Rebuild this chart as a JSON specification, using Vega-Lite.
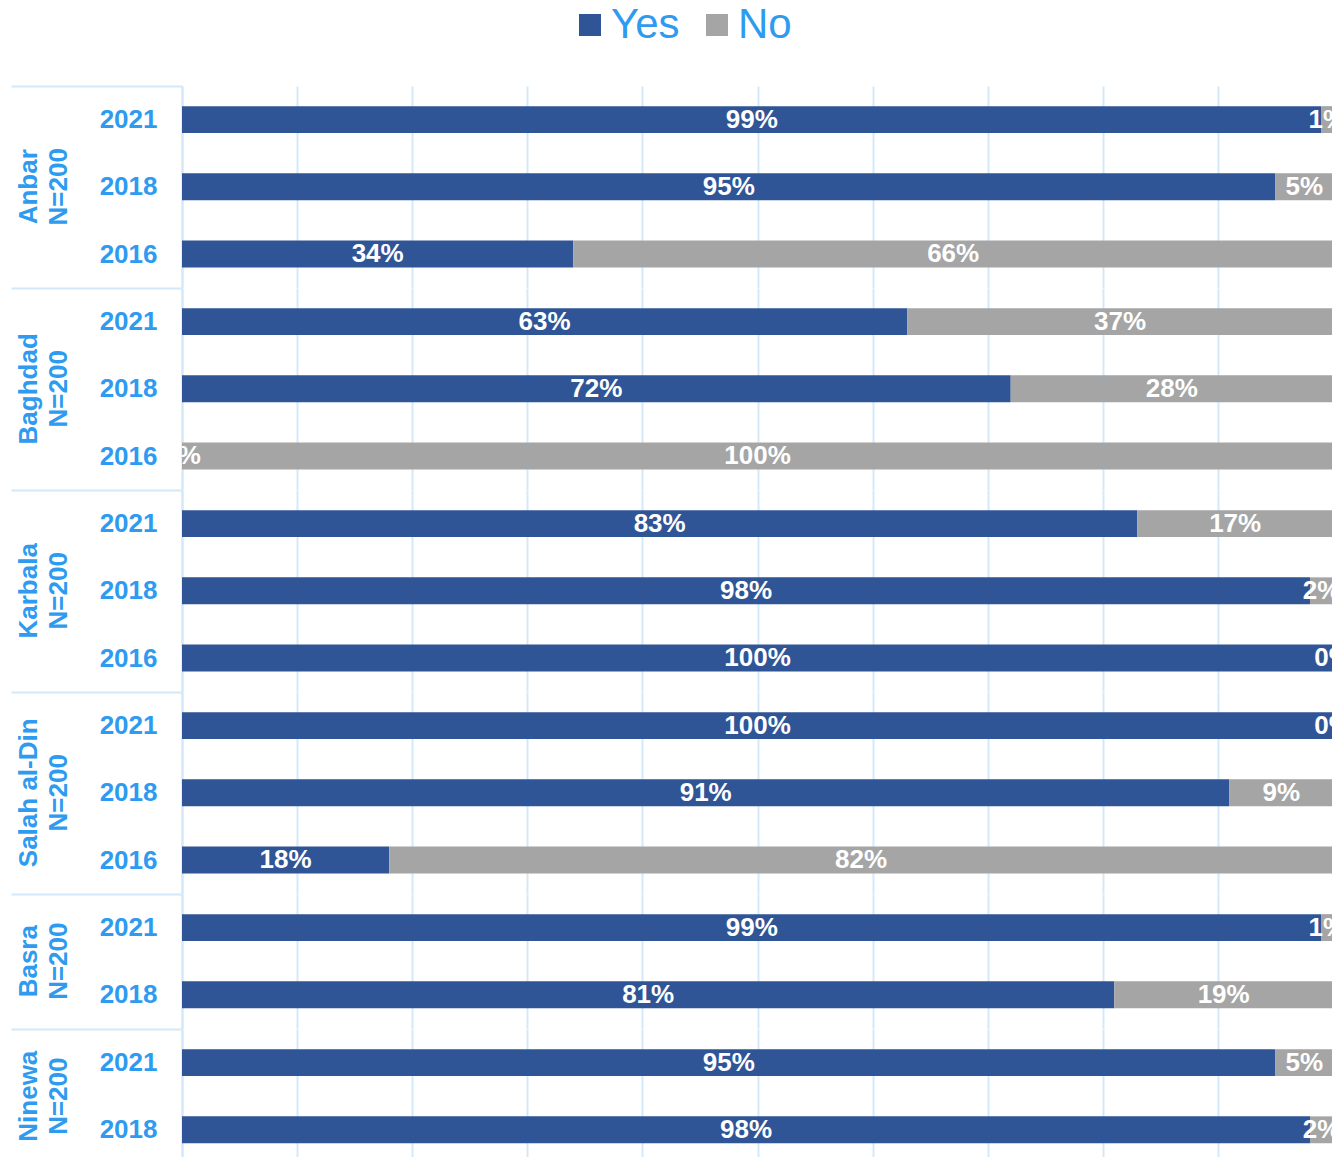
{
  "$schema": "https://vega.github.io/schema/vega-lite/v6.json",
  "padding": {"left": 10, "top": 4, "right": 0, "bottom": 0},
  "background": "white",
  "bounds": "flush",
  "data": {"values": [
    {"group": "Anbar|N=200", "year": "2021", "answer": "Yes", "pct": 0.99},
    {"group": "Anbar|N=200", "year": "2021", "answer": "No", "pct": 0.01},
    {"group": "Anbar|N=200", "year": "2018", "answer": "Yes", "pct": 0.95},
    {"group": "Anbar|N=200", "year": "2018", "answer": "No", "pct": 0.05},
    {"group": "Anbar|N=200", "year": "2016", "answer": "Yes", "pct": 0.34},
    {"group": "Anbar|N=200", "year": "2016", "answer": "No", "pct": 0.66},
    {"group": "Baghdad|N=200", "year": "2021", "answer": "Yes", "pct": 0.63},
    {"group": "Baghdad|N=200", "year": "2021", "answer": "No", "pct": 0.37},
    {"group": "Baghdad|N=200", "year": "2018", "answer": "Yes", "pct": 0.72},
    {"group": "Baghdad|N=200", "year": "2018", "answer": "No", "pct": 0.28},
    {"group": "Baghdad|N=200", "year": "2016", "answer": "Yes", "pct": 0.0},
    {"group": "Baghdad|N=200", "year": "2016", "answer": "No", "pct": 1.0},
    {"group": "Karbala|N=200", "year": "2021", "answer": "Yes", "pct": 0.83},
    {"group": "Karbala|N=200", "year": "2021", "answer": "No", "pct": 0.17},
    {"group": "Karbala|N=200", "year": "2018", "answer": "Yes", "pct": 0.98},
    {"group": "Karbala|N=200", "year": "2018", "answer": "No", "pct": 0.02},
    {"group": "Karbala|N=200", "year": "2016", "answer": "Yes", "pct": 1.0},
    {"group": "Karbala|N=200", "year": "2016", "answer": "No", "pct": 0.0},
    {"group": "Salah al-Din|N=200", "year": "2021", "answer": "Yes", "pct": 1.0},
    {"group": "Salah al-Din|N=200", "year": "2021", "answer": "No", "pct": 0.0},
    {"group": "Salah al-Din|N=200", "year": "2018", "answer": "Yes", "pct": 0.91},
    {"group": "Salah al-Din|N=200", "year": "2018", "answer": "No", "pct": 0.09},
    {"group": "Salah al-Din|N=200", "year": "2016", "answer": "Yes", "pct": 0.18},
    {"group": "Salah al-Din|N=200", "year": "2016", "answer": "No", "pct": 0.82},
    {"group": "Basra|N=200", "year": "2021", "answer": "Yes", "pct": 0.99},
    {"group": "Basra|N=200", "year": "2021", "answer": "No", "pct": 0.01},
    {"group": "Basra|N=200", "year": "2018", "answer": "Yes", "pct": 0.81},
    {"group": "Basra|N=200", "year": "2018", "answer": "No", "pct": 0.19},
    {"group": "Ninewa|N=200", "year": "2021", "answer": "Yes", "pct": 0.95},
    {"group": "Ninewa|N=200", "year": "2021", "answer": "No", "pct": 0.05},
    {"group": "Ninewa|N=200", "year": "2018", "answer": "Yes", "pct": 0.98},
    {"group": "Ninewa|N=200", "year": "2018", "answer": "No", "pct": 0.02}
  ]},
  "transform": [
    {"stack": "pct", "groupby": ["group", "year"], "sort": [{"field": "answer", "order": "descending"}], "as": ["p0", "p1"]},
    {"calculate": "(datum.p0 + datum.p1) / 2", "as": "mid"}
  ],
  "facet": {
    "row": {
      "field": "group",
      "type": "nominal",
      "sort": ["Anbar|N=200", "Baghdad|N=200", "Karbala|N=200", "Salah al-Din|N=200", "Basra|N=200", "Ninewa|N=200"],
      "header": {
        "title": null,
        "labelAngle": -90,
        "labelOrient": "left",
        "labelAnchor": "middle",
        "labelAlign": "center",
        "labelColor": "#2E9BF0",
        "labelFont": "Liberation Sans",
        "labelFontSize": 26,
        "labelFontWeight": "bold",
        "labelLineHeight": 30,
        "labelExpr": "split(datum.value, '|')",
        "labelPadding": 97
      }
    }
  },
  "spacing": 0,
  "resolve": {"scale": {"y": "independent"}},
  "spec": {
    "width": 1151,
    "height": {"step": 67.2},
    "encoding": {
      "y": {
        "field": "year",
        "type": "nominal",
        "sort": "descending",
        "scale": {"paddingInner": 0, "paddingOuter": 0},
        "axis": {
          "title": null,
          "labelColor": "#2E9BF0",
          "labelFont": "Liberation Sans",
          "labelFontSize": 26,
          "labelFontWeight": "bold",
          "labelBaseline": "middle",
          "tickBand": "extent",
          "tickSize": 171,
          "tickWidth": 2,
          "tickColor": "#D3E8F8",
          "tickOpacity": {"condition": {"test": "datum.extra", "value": 1}, "value": 0},
          "labelPadding": -146,
          "domainColor": "#D3E8F8",
          "domainWidth": 2
        }
      }
    },
    "layer": [
      {
        "mark": {"type": "bar", "height": {"band": 0.4}},
        "encoding": {
          "x": {
            "field": "p0",
            "type": "quantitative",
            "scale": {"domain": [0, 1], "nice": false},
            "axis": {
              "title": null,
              "labels": false,
              "ticks": false,
              "domain": false,
              "grid": true,
              "gridColor": "#D3E8F8",
              "gridWidth": 2,
              "values": [0, 0.1, 0.2, 0.3, 0.4, 0.5, 0.6, 0.7, 0.8, 0.9, 1]
            }
          },
          "x2": {"field": "p1"},
          "color": {
            "field": "answer",
            "type": "nominal",
            "scale": {"domain": ["Yes", "No"], "range": ["#2F5597", "#A5A5A5"]},
            "legend": {
              "title": null,
              "orient": "none",
              "direction": "horizontal",
              "legendX": 387,
              "legendY": -82,
              "symbolType": "square",
              "symbolSize": 484,
              "symbolStrokeWidth": 0,
              "labelFontSize": 42,
              "labelFont": "Liberation Sans",
              "labelColor": "#2E9BF0",
              "labelOffset": 0,
              "columnPadding": 16
            }
          }
        }
      },
      {
        "mark": {"type": "text", "color": "white", "font": "Liberation Sans", "fontSize": 26, "fontWeight": "bold", "baseline": "middle", "align": "center", "clip": true},
        "encoding": {
          "x": {"field": "mid", "type": "quantitative"},
          "text": {"field": "pct", "type": "quantitative", "format": ".0%"}
        }
      }
    ]
  },
  "config": {"view": {"stroke": null}}
}
